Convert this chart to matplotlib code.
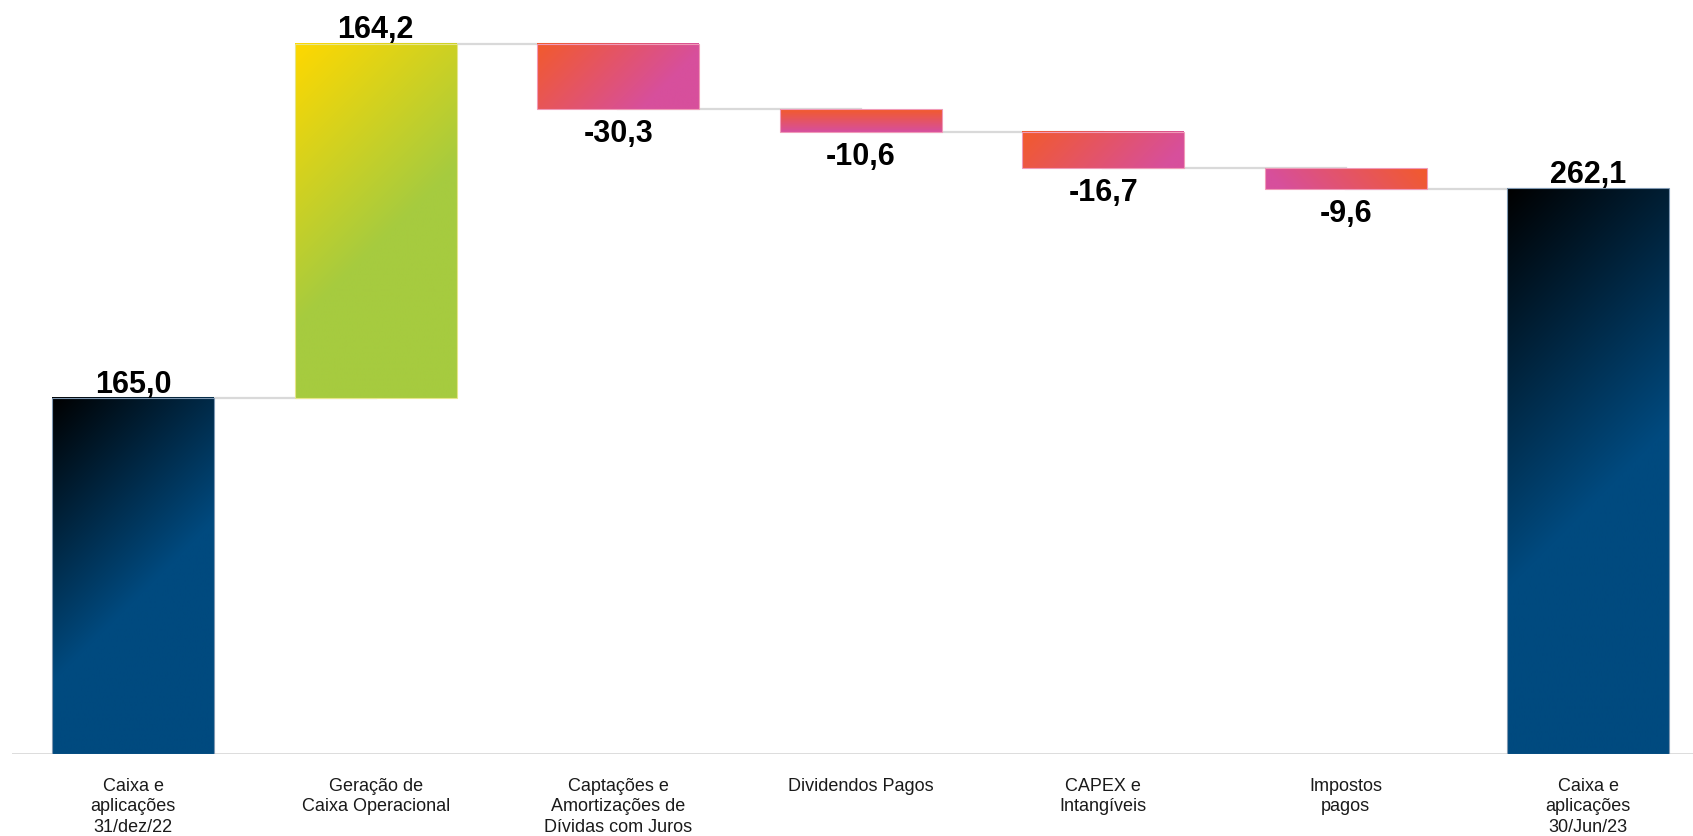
import numpy as np
import matplotlib
matplotlib.use("Agg")
import matplotlib.pyplot as plt
from matplotlib.colors import to_rgb

plt.rcParams['font.family'] = ['Liberation Sans', 'DejaVu Sans']

categories = ["Caixa e\naplicações\n31/dez/22",
              "Geração de\nCaixa Operacional",
              "Captações e\nAmortizações de\nDívidas com Juros",
              "Dividendos Pagos",
              "CAPEX e\nIntangíveis",
              "Impostos\npagos",
              "Caixa e\naplicações\n30/Jun/23"]
values = [165.0, 164.2, -30.3, -10.6, -16.7, -9.6, 262.1]
is_total = [True, False, False, False, False, False, True]

NAVY = ("#000000", "#004a7f")
GREEN = ("#ffd800", "#a6cb3f")
NEG = ("#f25a2c", "#d74f9c")

# gradient: (start colour, end colour, direction in pixel space, fraction where end colour is reached)
styles = [
    (NAVY, (1, 1), 0.55),
    (GREEN, (1, 1), 0.55),
    (NEG, (1, 1), 0.75),
    (NEG, (0, 1), 1.0),
    (NEG, (1, 1), 0.9),
    (NEG, (-1, 1), 0.9),
    (NAVY, (1, 1), 0.55),
]
edges = ["#7f98b2", "#e6e68a", "#f09ab8", "#f09ab8", "#f09ab8", "#f09ab8", "#7f98b2"]


def fmt(v):
    return ("%.1f" % v).replace(".", ",")


def gradient_img(wpx, hpx, cols, direction, stop):
    nx, ny = max(int(wpx), 2), max(int(hpx), 2)
    xx, yy = np.meshgrid(np.arange(nx), np.arange(ny))
    dx, dy = direction
    t = xx * dx + yy * dy
    t = (t - t.min()) / (t.max() - t.min())
    t = np.clip(t / stop, 0, 1)[..., None]
    c0 = np.array(to_rgb(cols[0]))
    c1 = np.array(to_rgb(cols[1]))
    return c0 * (1 - t) + c1 * t


fig = plt.figure(figsize=(16.93, 8.37), dpi=100)
ax = fig.add_axes([12 / 1693, 82 / 837, 1697.5 / 1693, 733.7 / 837])
ax.set_xlim(-0.5, 6.5)
ax.set_ylim(0, 340)
for s in ax.spines.values():
    s.set_visible(False)
ax.set_xticks([])
ax.set_yticks([])

width = 0.668
bottoms, tops = [], []
level = 0.0
for v, tot in zip(values, is_total):
    if tot:
        b, t = 0.0, v
        level = v
    else:
        b, t = level, level + v
        level = level + v
    bottoms.append(min(b, t))
    tops.append(max(b, t))

# pixels per data unit
p0 = ax.transData.transform((0, 0))
p1 = ax.transData.transform((1, 1))
pxx, pxy = p1 - p0

# connectors
for i in range(len(values) - 1):
    yline = tops[i] if values[i] > 0 else bottoms[i]
    ax.plot([i, i + 1], [yline, yline], color="#d9d9d9", lw=1.6, zorder=1)

ax.axhline(0, color="#d9d9d9", lw=2, zorder=1)

for i, v in enumerate(values):
    x0, x1 = i - width / 2, i + width / 2
    b, t = bottoms[i], tops[i]
    cols, direction, stop = styles[i]
    img = gradient_img(width * pxx, (t - b) * pxy, cols, direction, stop)
    ax.imshow(img, extent=[x0, x1, b, t], origin="upper", aspect="auto",
              interpolation="bilinear", zorder=2)
    ax.add_patch(plt.Rectangle((x0, b), width, t - b, fill=False,
                               edgecolor=edges[i], lw=0.8, zorder=3))
    if v > 0:
        ax.annotate(fmt(v), (i, t), xytext=(0, 4.5), textcoords="offset points",
                    ha="center", va="baseline", fontsize=22, fontweight="bold")
    else:
        ax.annotate(fmt(v), (i, b), xytext=(0, -23), textcoords="offset points",
                    ha="center", va="baseline", fontsize=22, fontweight="bold")
    ax.annotate(categories[i], (i, 0), xytext=(0, -16.5), textcoords="offset points",
                ha="center", va="top", fontsize=13, linespacing=1.27, color="#1a1a1a")

ax.set_xlim(-0.5, 6.5)
ax.set_ylim(0, 340)

fig.savefig("out.png", dpi=100)
